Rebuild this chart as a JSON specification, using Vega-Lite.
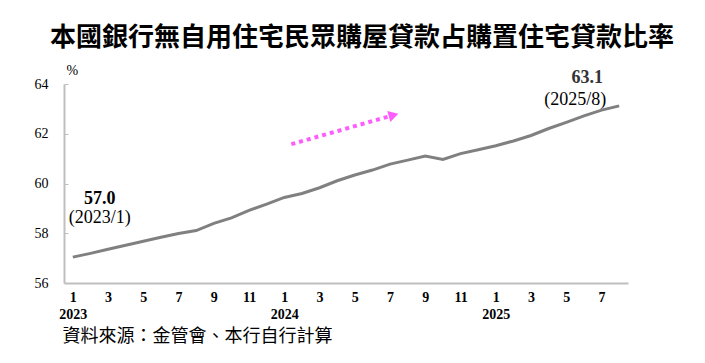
{
  "$schema": "https://vega.github.io/schema/vega-lite/v6.json",
  "width": 564,
  "height": 199,
  "autosize": "none",
  "padding": {"left": 64, "top": 84, "right": 77, "bottom": 80},
  "background": "white",
  "config": {"view": {"stroke": null}},
  "title": {
    "text": "本國銀行無自用住宅民眾購屋貸款占購置住宅貸款比率",
    "font": "Noto Sans CJK TC",
    "fontSize": 26,
    "fontWeight": "bold",
    "color": "black",
    "anchor": "middle",
    "frame": "group",
    "dx": 16,
    "offset": 12
  },
  "datasets": {
    "ratio": [
      {"date": "2023/1", "i": 0, "value": 57.04},
      {"date": "2023/2", "i": 1, "value": 57.19},
      {"date": "2023/3", "i": 2, "value": 57.36},
      {"date": "2023/4", "i": 3, "value": 57.52},
      {"date": "2023/5", "i": 4, "value": 57.68},
      {"date": "2023/6", "i": 5, "value": 57.84},
      {"date": "2023/7", "i": 6, "value": 57.99},
      {"date": "2023/8", "i": 7, "value": 58.11},
      {"date": "2023/9", "i": 8, "value": 58.4},
      {"date": "2023/10", "i": 9, "value": 58.62},
      {"date": "2023/11", "i": 10, "value": 58.92},
      {"date": "2023/12", "i": 11, "value": 59.17},
      {"date": "2024/1", "i": 12, "value": 59.44},
      {"date": "2024/2", "i": 13, "value": 59.6},
      {"date": "2024/3", "i": 14, "value": 59.83},
      {"date": "2024/4", "i": 15, "value": 60.11},
      {"date": "2024/5", "i": 16, "value": 60.34},
      {"date": "2024/6", "i": 17, "value": 60.54},
      {"date": "2024/7", "i": 18, "value": 60.78},
      {"date": "2024/8", "i": 19, "value": 60.94},
      {"date": "2024/9", "i": 20, "value": 61.1},
      {"date": "2024/10", "i": 21, "value": 60.97},
      {"date": "2024/11", "i": 22, "value": 61.2},
      {"date": "2024/12", "i": 23, "value": 61.36},
      {"date": "2025/1", "i": 24, "value": 61.52},
      {"date": "2025/2", "i": 25, "value": 61.71},
      {"date": "2025/3", "i": 26, "value": 61.93},
      {"date": "2025/4", "i": 27, "value": 62.21},
      {"date": "2025/5", "i": 28, "value": 62.46},
      {"date": "2025/6", "i": 29, "value": 62.72},
      {"date": "2025/7", "i": 30, "value": 62.95},
      {"date": "2025/8", "i": 31, "value": 63.12}
    ],
    "arrow": [
      {"i": 12.4, "value": 61.58, "order": 0},
      {"i": 18.2, "value": 62.75, "order": 1}
    ]
  },
  "encoding": {
    "x": {
      "field": "i",
      "type": "quantitative",
      "scale": {"domain": [-0.5, 31.5], "nice": false, "zero": false},
      "axis": {
        "values": [0, 2, 4, 6, 8, 10, 12, 14, 16, 18, 20, 22, 24, 26, 28, 30],
        "labelExpr": "datum.value % 12 == 0 ? [toString(datum.value % 12 + 1), toString(2023 + floor(datum.value / 12))] : toString(datum.value % 12 + 1)",
        "grid": false,
        "ticks": false,
        "domainColor": "#bfbfbf",
        "domainWidth": 2,
        "labelFont": "Liberation Serif",
        "labelFontSize": 14,
        "labelFontWeight": "bold",
        "labelColor": "black",
        "labelPadding": 7,
        "labelLineHeight": 17,
        "labelFlush": false,
        "labelOverlap": false,
        "title": "資料來源：金管會、本行自行計算",
        "titleFont": "Noto Sans CJK TC",
        "titleFontSize": 18,
        "titleFontWeight": "normal",
        "titleColor": "black",
        "titleAnchor": "start",
        "titleAlign": "left",
        "titleBaseline": "middle",
        "titleX": -2,
        "titleY": 53
      }
    },
    "y": {
      "field": "value",
      "type": "quantitative",
      "scale": {"domain": [56, 64], "nice": false, "zero": false},
      "axis": {
        "values": [56, 58, 60, 62, 64],
        "format": "d",
        "grid": false,
        "domainColor": "#bfbfbf",
        "domainWidth": 2,
        "tickColor": "#bfbfbf",
        "tickSize": -4,
        "tickWidth": 1,
        "labelFont": "Liberation Serif",
        "labelFontSize": 14,
        "labelColor": "black",
        "labelPadding": 20,
        "title": "%",
        "titleAngle": 0,
        "titleX": 2,
        "titleY": -14,
        "titleAlign": "left",
        "titleBaseline": "middle",
        "titleFont": "Liberation Serif",
        "titleFontSize": 14,
        "titleFontWeight": "normal",
        "titleColor": "black"
      }
    }
  },
  "layer": [
    {
      "data": {"name": "ratio"},
      "mark": {"type": "line", "color": "#808080", "strokeWidth": 3}
    },
    {
      "data": {"name": "arrow"},
      "mark": {"type": "line", "color": "#ff5cff", "strokeWidth": 4, "strokeDash": [4, 4], "strokeCap": "butt"},
      "encoding": {"order": {"field": "order"}}
    },
    {
      "data": {"name": "arrow"},
      "transform": [{"filter": "datum.order == 1"}],
      "mark": {"type": "point", "shape": "triangle-right", "filled": true, "color": "#ff5cff", "opacity": 1, "size": 130, "angle": -16}
    },
    {
      "data": {"name": "ratio"},
      "transform": [{"filter": "datum.i == 0"}],
      "mark": {"type": "text", "font": "Liberation Serif", "fontSize": 18, "fontWeight": "bold", "color": "black", "dx": 27, "dy": -58},
      "encoding": {"text": {"field": "value", "format": ".1f"}}
    },
    {
      "data": {"name": "ratio"},
      "transform": [{"filter": "datum.i == 0"}, {"calculate": "'(' + datum.date + ')'", "as": "lbl"}],
      "mark": {"type": "text", "font": "Liberation Serif", "fontSize": 18, "color": "black", "dx": 27, "dy": -39},
      "encoding": {"text": {"field": "lbl"}}
    },
    {
      "data": {"name": "ratio"},
      "transform": [{"filter": "datum.i == 31"}],
      "mark": {"type": "text", "font": "Liberation Serif", "fontSize": 18, "fontWeight": "bold", "color": "#333333", "dx": -32, "dy": -28},
      "encoding": {"text": {"field": "value", "format": ".1f"}}
    },
    {
      "data": {"name": "ratio"},
      "transform": [{"filter": "datum.i == 31"}, {"calculate": "'(' + datum.date + ')'", "as": "lbl"}],
      "mark": {"type": "text", "font": "Liberation Serif", "fontSize": 18, "color": "black", "dx": -44, "dy": -6},
      "encoding": {"text": {"field": "lbl"}}
    }
  ]
}
